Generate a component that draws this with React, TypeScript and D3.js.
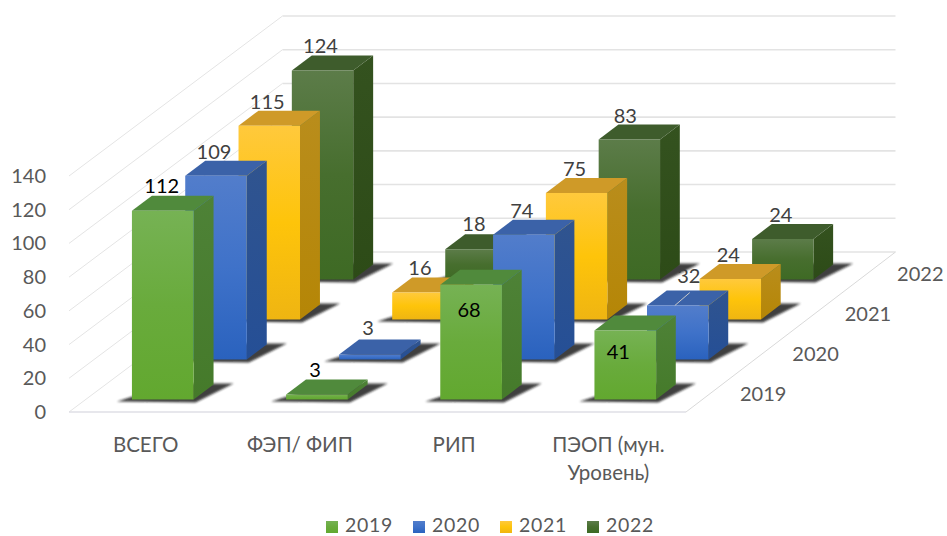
import React from "react";
import * as d3 from "d3";

// Chart values
const categories = ["ВСЕГО", "ФЭП/ ФИП", "РИП", "ПЭОП (мун. Уровень)"];
const years = ["2019", "2020", "2021", "2022"];
const values2019 = [112, 3, 68, 41];
const values2020 = [109, 3, 74, 32];
const values2021 = [115, 16, 75, 24];
const values2022 = [124, 18, 83, 24];
const yTicks = [0, 20, 40, 60, 80, 100, 120, 140];
const seriesValues = [values2019, values2020, values2021, values2022];

// Oblique projection of the box: floor rect plus a back wall, with a slight narrowing towards the back
const WIDTH = 947;
const HEIGHT = 536;
const FLOOR_LEFT = 69;
const FLOOR_RIGHT = 686;
const FLOOR_FRONT_Y = 412;
const FLOOR_DEPTH = 160;
const SHEAR = 213.5 / 160;
const NARROWING = 4 / 617;

const xBand = d3.scaleBand<string>().domain(categories).range([FLOOR_LEFT, FLOOR_RIGHT]).paddingInner(0.6).paddingOuter(0.3);
const depthBand = d3.scaleBand<string>().domain(years).range([0, FLOOR_DEPTH]).paddingInner(0.625).paddingOuter(0.3125);
const heightScale = d3.scaleLinear().domain([0, 140]).range([0, 236]);

type Pt = [number, number];
const project = (x: number, depth: number, value: number): Pt => [
  FLOOR_LEFT + (x - FLOOR_LEFT) * (1 - (NARROWING * depth) / FLOOR_DEPTH) + depth * SHEAR,
  FLOOR_FRONT_Y - depth - heightScale(value),
];
const poly = (pts: Pt[]) => d3.line()(pts) + "Z";

const palette = [
  { id: "g", front: ["#76b254", "#69ab3c", "#62a82f"], side: ["#4e8237", "#457a2a"], top: "#508a3c", label: "#000000" },
  { id: "b", front: ["#527dcb", "#3f72c9", "#2a62be"], side: ["#30548f", "#254f96"], top: "#3b62a8", label: "#404040" },
  { id: "y", front: ["#ffc93c", "#fec40a", "#efb512"], side: ["#b98d1c", "#b58606"], top: "#cf9a28", label: "#404040" },
  { id: "d", front: ["#5c7c49", "#476e2e", "#3e6a24"], side: ["#34521f", "#2d4b17"], top: "#3e5c2c", label: "#404040" },
];

const DEFAULT_LABEL_OFFSET: Pt = [-2, -25];
const labelOffsets: Record<string, Pt> = {
  "2019-0": [-1, -26],
  "2019-2": [-2, 24],
  "2019-3": [-7, 21],
  "2020-1": [-2, -27],
  "2020-3": [11, -31],
  "2021-1": [-3, -26],
  "2022-1": [-2, -26],
  "2022-2": [-4, -25],
};

const axisFont = "Lato, 'Open Sans', sans-serif";
const textFont = "Lato, 'Noto Sans', sans-serif";

export default function App() {
  const rows = years.map((year, yi) => ({ year, yi })).reverse();
  const wallRight = project(FLOOR_RIGHT, FLOOR_DEPTH, 0)[0];

  return (
    <svg
      width={WIDTH}
      height={HEIGHT}
      viewBox={`0 0 ${WIDTH} ${HEIGHT}`}
      style={{ position: "absolute", left: 0, top: 0, background: "#ffffff" }}
    >
      <defs>
        <filter id="soft" x="-20%" y="-60%" width="140%" height="220%">
          <feGaussianBlur stdDeviation="1.2" />
        </filter>
        {palette.map((c) => (
          <React.Fragment key={c.id}>
            <linearGradient id={`front-${c.id}`} x1="0" y1="0" x2="0" y2="1">
              <stop offset="0" stopColor={c.front[0]} />
              <stop offset="0.5" stopColor={c.front[1]} />
              <stop offset="1" stopColor={c.front[2]} />
            </linearGradient>
            <linearGradient id={`side-${c.id}`} x1="0" y1="0" x2="0" y2="1">
              <stop offset="0" stopColor={c.side[0]} />
              <stop offset="1" stopColor={c.side[1]} />
            </linearGradient>
          </React.Fragment>
        ))}
      </defs>

      {/* Back wall gridlines and the matching lines along the left wall */}
      {yTicks.map((t) => {
        const a = project(FLOOR_LEFT, 0, t);
        const b = project(FLOOR_LEFT, FLOOR_DEPTH, t);
        return (
          <g key={t}>
            <line x1={a[0]} y1={a[1]} x2={b[0]} y2={b[1]} stroke="#e4e4e4" strokeWidth={1} />
            <line x1={b[0]} y1={b[1]} x2={wallRight} y2={b[1]} stroke="#e3e3e3" strokeWidth={1.6} />
          </g>
        );
      })}

      {/* Floor edges */}
      <line x1={FLOOR_LEFT} y1={FLOOR_FRONT_Y} x2={FLOOR_RIGHT} y2={FLOOR_FRONT_Y} stroke="#dfdfe6" strokeWidth={1.6} />
      <line
        x1={FLOOR_RIGHT}
        y1={FLOOR_FRONT_Y}
        x2={wallRight}
        y2={FLOOR_FRONT_Y - FLOOR_DEPTH}
        stroke="#d9d9d9"
        strokeWidth={1}
      />

      {/* Value axis */}
      {yTicks.map((t) => (
        <text
          key={t}
          x={46}
          y={project(FLOOR_LEFT, 0, t)[1] - 1}
          textAnchor="end"
          dominantBaseline="central"
          fontFamily={axisFont}
          fontSize={20}
          fill="#595959"
        >
          {t}
        </text>
      ))}

      {/* Category axis */}
      {categories.map((c) => {
        const cx = (xBand(c) as number) + xBand.bandwidth() / 2 - 0.5;
        const lines = c === "ПЭОП (мун. Уровень)" ? ["ПЭОП (мун.", "Уровень)"] : [c];
        return lines.map((l, i) => (
          <text
            key={l}
            x={cx}
            y={444 + i * 28}
            textAnchor="middle"
            dominantBaseline="central"
            fontFamily={textFont}
            fontSize={20.5}
            fill="#595959"
          >
            {l}
          </text>
        ));
      })}

      {/* Depth axis */}
      {years.map((y) => {
        const d = (depthBand(y) as number) + depthBand.bandwidth() / 2;
        const p = project(FLOOR_RIGHT, d, 0);
        return (
          <text
            key={y}
            x={p[0] + 51}
            y={p[1] + 1}
            textAnchor="middle"
            dominantBaseline="central"
            fontFamily={axisFont}
            fontSize={20}
            fill="#595959"
          >
            {y}
          </text>
        );
      })}

      {/* Bars, painted from the back row to the front row */}
      {rows.map(({ year, yi }) => {
        const c = palette[yi];
        const d0 = depthBand(year) as number;
        const d1 = d0 + depthBand.bandwidth();
        return (
          <g key={year}>
            {categories.map((cat) => {
              const x0 = xBand(cat) as number;
              const x1 = x0 + xBand.bandwidth();
              const fl = project(x0, d0, 0);
              const fr = project(x1, d0, 0);
              const br = project(x1, d1, 0);
              return (
                <path
                  key={cat}
                  d={poly([
                    [fl[0] - 15, fl[1] + 2],
                    [fr[0] + 2, fr[1] + 3],
                    [br[0] + 20, br[1] - 1],
                    [br[0] - 40, br[1] - 1],
                  ])}
                  fill="#141414"
                  opacity={0.82}
                  filter="url(#soft)"
                />
              );
            })}
            {categories.map((cat, ci) => {
              const v = seriesValues[yi][ci];
              const x0 = xBand(cat) as number;
              const x1 = x0 + xBand.bandwidth();
              const a = project(x0, d0, v);
              const b = project(x1, d0, v);
              const b0 = project(x1, d0, 0);
              const a0 = project(x0, d0, 0);
              const backL = project(x0, d1, v);
              const backR = project(x1, d1, v);
              const backR0 = project(x1, d1, 0);
              return (
                <g key={cat}>
                  <path d={poly([b, backR, backR0, b0])} fill={`url(#side-${c.id})`} />
                  <path d={poly([a, backL, backR, b])} fill={c.top} />
                  <path d={poly([a, b, b0, a0])} fill={`url(#front-${c.id})`} />
                </g>
              );
            })}
          </g>
        );
      })}

      {/* Leader line for the label that sits away from its bar */}
      {(() => {
        const cat = categories[3];
        const d0 = depthBand("2020") as number;
        const cx = (xBand(cat) as number) + xBand.bandwidth() / 2;
        const p = project(cx, d0, values2020[3]);
        return <line x1={p[0] - 3} y1={p[1]} x2={p[0] + 12} y2={p[1] - 13} stroke="#c9c9c9" strokeWidth={1} />;
      })()}

      {/* Data labels */}
      {years.map((year, yi) =>
        categories.map((cat, ci) => {
          const v = seriesValues[yi][ci];
          const d0 = depthBand(year) as number;
          const cx = (xBand(cat) as number) + xBand.bandwidth() / 2;
          const p = project(cx, d0, v);
          const off = labelOffsets[`${year}-${ci}`] ?? DEFAULT_LABEL_OFFSET;
          return (
            <text
              key={`${year}-${cat}`}
              x={p[0] + off[0]}
              y={p[1] + off[1]}
              textAnchor="middle"
              dominantBaseline="central"
              fontFamily={axisFont}
              fontSize={20}
              fill={palette[yi].label}
            >
              {v}
            </text>
          );
        })
      )}

      {/* Legend */}
      {years.map((y, i) => {
        const x = 326 + i * 87;
        return (
          <g key={y}>
            <rect x={x} y={521} width={12} height={12} fill={`url(#front-${palette[i].id})`} />
            <text
              x={x + 19}
              y={524.5}
              dominantBaseline="central"
              fontFamily={axisFont}
              fontSize={19.5}
              letterSpacing={0.7}
              fill="#595959"
            >
              {y}
            </text>
          </g>
        );
      })}
    </svg>
  );
}
